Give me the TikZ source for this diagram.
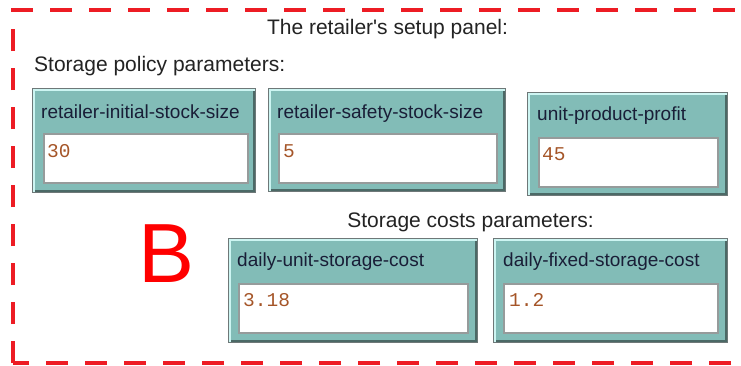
\documentclass[tikz,border=0pt]{standalone}
\usepackage{fontspec}
\setmainfont{Liberation Sans}[Ligatures=TeXOff]
\setmonofont{Liberation Mono}
\usepackage{xcolor}
\usetikzlibrary{calc}
\definecolor{panelred}{RGB}{237,28,36}
\definecolor{letterred}{RGB}{255,0,0}
\definecolor{widgetteal}{RGB}{130,188,183}
\definecolor{widgetedge}{RGB}{110,120,120}
\definecolor{widgetlight}{RGB}{205,245,242}
\definecolor{widgetshadow}{RGB}{75,105,102}
\definecolor{fieldedge}{RGB}{150,155,155}
\definecolor{labelnavy}{RGB}{25,30,55}
\definecolor{valuebrown}{RGB}{165,85,40}
\definecolor{headgray}{RGB}{35,35,35}

\begin{document}
\begin{tikzpicture}[
    x=1pt, y=1pt,
    widget/.style={draw=widgetedge, line width=1pt, fill=widgetteal, anchor=north west, inner sep=0pt,
        path picture={
            \draw[widgetshadow, line width=5pt] (path picture bounding box.north east) |- (path picture bounding box.south west);
            \draw[widgetlight, line width=4pt] (path picture bounding box.south west) |- (path picture bounding box.north east);
        }},
    field/.style={draw=fieldedge, line width=2pt, fill=white, anchor=north west, inner sep=0pt},
    widgetlabel/.style={text=labelnavy, font=\fontsize{19}{22}\selectfont, anchor=base west, inner sep=0pt},
    fieldvalue/.style={text=valuebrown, font=\ttfamily\fontsize{19.5}{22}\selectfont, anchor=base west, inner sep=0pt},
    heading/.style={text=headgray, font=\fontsize{21}{25}\selectfont, inner sep=0pt}
]

% Canvas
\useasboundingbox (0,0) rectangle (741,-365);
\fill[white] (0,0) rectangle (741,-365);

% Dashed panel frame
\draw[panelred, line width=4pt, dash pattern=on 22pt off 17pt] (13,-363) rectangle (760,-10);

% Titles
\node[heading, anchor=base] (title) at (387.5,-34) {The retailer's setup panel:};
\node[heading, anchor=base west] (policyhead) at (34,-71) {Storage policy parameters:};
\node[heading, anchor=base] (costhead) at (470.5,-227) {Storage costs parameters:};

% Panel letter
\node[text=letterred, font=\fontsize{84}{90}\selectfont, anchor=base, inner sep=0pt] (panelletter) at (167,-282) {B};

% 1. Storage policy inputs
\node[widget, minimum width=223, minimum height=104] (initstock) at (32,-88) {};
\node[field, minimum width=204, minimum height=49] (initstockfield) at (43,-133) {};
\node[widgetlabel] at (41,-118) {retailer-initial-stock-size};
\node[fieldvalue] at (47,-157) {30};

\node[widget, minimum width=237, minimum height=103] (safetystock) at (268,-88) {};
\node[field, minimum width=218, minimum height=49] (safetystockfield) at (278,-133) {};
\node[widgetlabel] at (277,-118) {retailer-safety-stock-size};
\node[fieldvalue] at (283,-157) {5};

\node[widget, minimum width=200, minimum height=103] (profit) at (527,-92) {};
\node[field, minimum width=179, minimum height=49] (profitfield) at (538,-137) {};
\node[widgetlabel] at (537,-120) {unit-product-profit};
\node[fieldvalue] at (542,-160) {45};

% 2. Storage cost inputs
\node[widget, minimum width=249, minimum height=104] (unitcost) at (228,-238) {};
\node[field, minimum width=229, minimum height=49] (unitcostfield) at (238,-283) {};
\node[widgetlabel] at (237,-266) {daily-unit-storage-cost};
\node[fieldvalue] at (243,-306) {3.18};

\node[widget, minimum width=234, minimum height=104] (fixedcost) at (493,-238) {};
\node[field, minimum width=214, minimum height=49] (fixedcostfield) at (503,-283) {};
\node[widgetlabel] at (503,-266) {daily-fixed-storage-cost};
\node[fieldvalue] at (509,-306) {1.2};

\end{tikzpicture}
\end{document}
